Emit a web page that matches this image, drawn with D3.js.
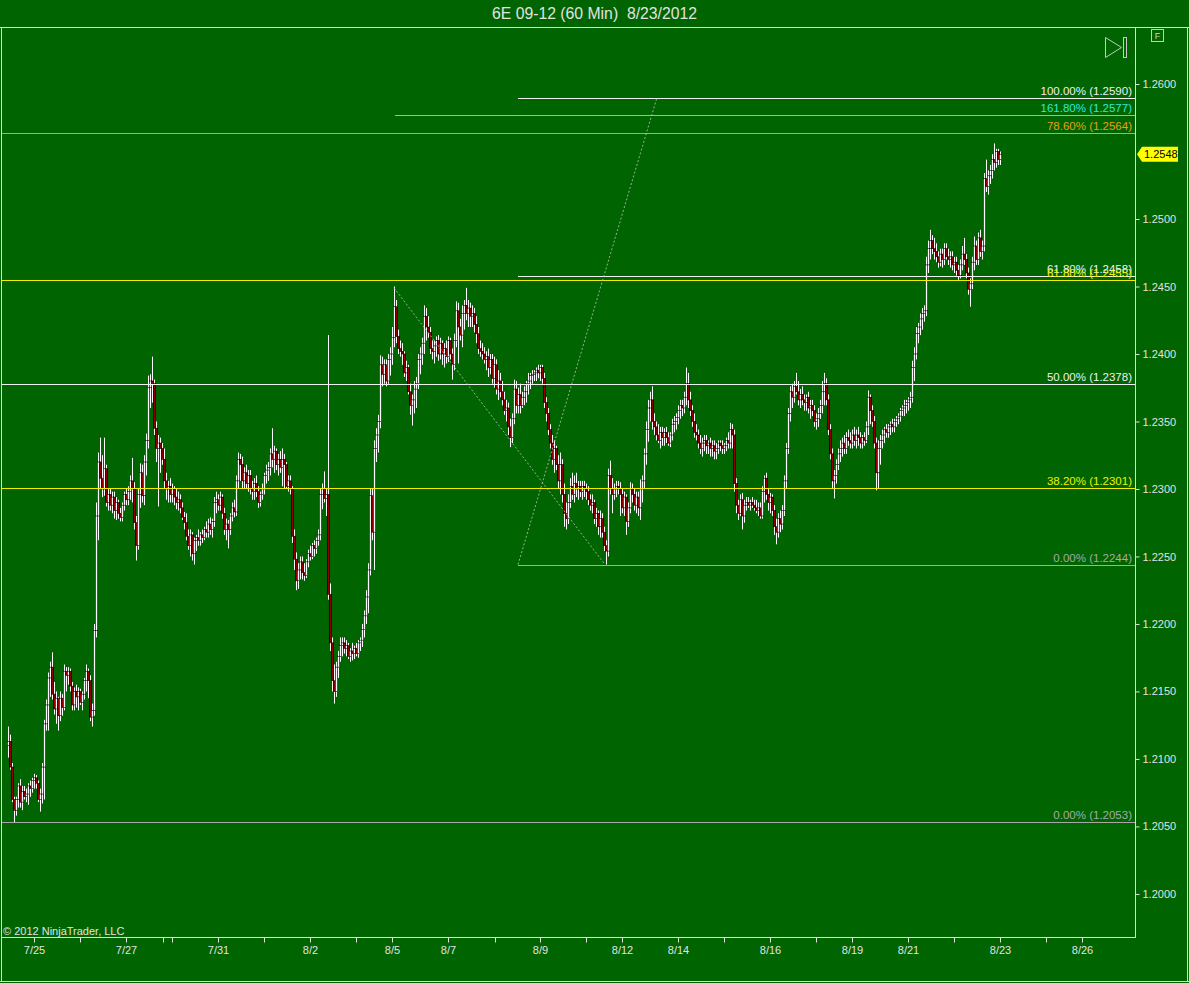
<!DOCTYPE html>
<html><head><meta charset="utf-8">
<script src="https://cdn.jsdelivr.net/npm/d3@7"></script>
<style>html,body{margin:0;padding:0;background:#006400;}svg{display:block}</style>
</head><body><svg id="c" width="1189" height="983"></svg>
<script>
// ---- DATA (prices in pips above 1.2000) ----
const opens=[110,113,94,70,62,70,80,68,76,72,
74,80,78,84,86,82,70,74,94,126,
140,160,168,148,137,145,132,145,138,165,
162,165,154,140,150,146,150,142,148,158,
165,158,131,136,195,280,320,308,300,315,
290,296,288,294,284,290,282,279,288,296,
292,298,306,300,275,258,296,312,295,320,
336,375,380,378,345,330,334,330,322,306,
300,302,296,300,294,290,292,286,279,275,
265,258,266,252,262,264,262,266,264,270,
268,274,270,276,290,292,288,294,282,270,
274,270,280,286,283,306,322,318,306,312,
304,310,300,298,304,298,290,296,300,310,
314,316,326,322,328,318,322,316,322,318,
302,306,300,265,248,232,240,246,238,236,
246,252,250,258,256,262,266,296,300,293,
296,222,186,158,150,168,176,184,186,182,
184,176,180,178,182,178,186,188,196,206,
220,240,295,268,330,340,350,392,385,392,
380,396,400,412,435,413,404,402,400,386,
390,372,362,366,374,378,396,400,408,428,
420,416,404,402,406,410,400,408,400,404,
398,410,400,392,410,432,420,414,430,436,
430,434,428,430,422,415,404,402,400,396,
398,390,396,382,392,374,380,372,366,358,
360,346,338,352,374,362,370,362,368,372,
378,380,384,385,386,388,386,390,382,364,
356,344,334,322,330,318,306,318,296,282,
278,290,302,296,304,300,302,298,302,300,
298,292,288,290,278,282,272,278,268,258,
254,310,300,296,300,302,300,296,286,294,
276,286,300,296,288,294,286,300,306,326,
344,360,366,350,346,340,336,342,338,342,
338,334,340,348,350,353,358,362,360,368,
378,366,358,350,342,340,334,330,334,336,
332,334,330,332,328,330,334,332,330,332,
336,334,344,340,304,288,282,292,280,288,
290,288,290,288,286,284,286,280,298,308,
296,290,294,284,272,268,278,274,284,306,
330,356,372,368,376,372,366,370,366,364,
368,360,362,358,350,352,356,362,372,378,
366,344,326,306,310,318,326,330,334,330,
338,336,334,340,336,340,338,334,338,336,
346,368,358,350,334,312,330,336,340,344,
342,346,348,346,350,352,354,358,360,362,
364,366,368,390,400,415,420,426,430,432,
466,478,484,478,476,472,468,474,470,478,
472,470,472,466,468,462,458,466,474,470,
460,448,452,468,480,470,486,476,480,530,
524,532,536,544,542,550,544];
const highs=[124,118,97,72,72,82,85,80,80,78,
82,84,86,89,88,84,78,97,129,144,
164,172,179,157,150,146,150,148,170,168,
168,167,157,153,155,153,152,150,160,170,
167,162,141,200,290,327,338,325,338,318,
300,300,298,298,294,292,286,290,298,300,
302,310,323,305,280,300,319,318,325,341,
384,385,398,381,350,340,338,334,330,312,
306,308,304,302,300,298,296,290,283,282,
270,270,268,264,266,270,268,270,272,276,
278,279,278,294,298,296,298,296,286,278,
277,282,290,292,310,327,326,324,316,318,
314,314,306,308,310,302,298,304,312,318,
320,330,345,332,330,326,328,330,326,320,
310,310,302,270,253,245,250,250,245,248,
255,258,260,262,264,270,300,304,313,300,
414,230,190,170,172,180,190,190,190,188,
186,182,186,184,186,188,190,200,210,225,
245,300,300,336,345,355,399,398,396,396,
400,405,420,450,440,418,410,408,402,395,
392,378,370,380,383,400,405,412,436,434,
428,420,410,410,413,414,412,410,408,410,
413,412,404,415,439,438,426,436,440,449,
440,438,436,434,428,420,410,408,405,402,
404,400,400,398,396,388,386,380,372,366,
364,352,356,381,380,375,378,372,376,380,
386,386,388,388,390,392,392,392,386,368,
360,348,340,336,332,325,327,322,304,290,
296,308,312,310,312,306,306,306,306,304,
302,296,296,292,286,284,284,282,272,262,
315,321,308,304,306,306,305,300,298,296,
290,305,304,300,298,298,307,310,330,350,
366,372,376,356,350,348,346,346,345,346,
342,342,352,354,356,362,366,366,372,390,
386,372,362,356,348,344,340,338,340,340,
336,338,336,336,334,336,336,336,334,338,
342,349,348,344,308,292,296,297,292,294,
294,292,294,292,292,290,290,302,310,312,
300,297,296,288,278,282,284,288,310,334,
360,376,378,380,386,380,374,376,370,370,
372,366,366,362,356,360,366,380,386,382,
370,348,330,314,322,330,336,338,340,342,
344,342,344,346,344,346,342,340,342,350,
373,370,362,354,338,336,340,344,346,348,
348,350,352,352,354,356,360,362,366,366,
368,372,395,405,420,423,430,434,436,472,
484,492,488,486,482,476,478,478,482,482,
478,476,476,472,472,466,470,480,486,474,
464,456,472,487,484,490,492,484,534,544,
536,540,548,556,552,552,550];
const lows=[101,92,68,53,58,64,64,62,70,68,
66,72,75,78,78,68,61,67,70,121,
121,146,144,133,126,121,128,132,136,150,
155,150,136,136,138,136,140,136,144,150,
145,128,124,132,190,262,300,294,295,287,
284,284,282,278,277,278,276,276,284,288,
288,292,290,270,247,255,286,290,288,310,
330,360,364,340,320,287,312,318,300,292,
290,290,290,288,285,284,282,277,270,262,
255,250,247,244,254,258,258,260,262,264,
264,266,264,272,282,284,284,278,266,262,
256,266,276,279,280,300,306,300,300,300,
298,296,292,292,294,286,287,292,296,304,
306,310,316,312,314,310,312,302,300,300,
298,296,260,240,225,226,233,233,232,234,
242,247,248,250,252,258,262,285,290,280,
218,180,150,141,146,160,172,176,178,176,
174,172,173,174,176,175,180,183,190,200,
208,236,262,240,320,327,345,376,378,376,
378,384,392,405,408,400,398,392,383,380,
370,355,347,356,360,374,385,392,400,410,
412,400,396,393,398,395,396,392,390,393,
394,396,381,388,405,393,410,405,418,425,
420,420,420,416,408,400,398,396,393,388,
383,385,378,375,370,366,368,362,355,350,
340,331,334,348,356,356,356,360,362,364,
370,374,378,380,380,382,380,378,360,350,
340,330,318,312,314,300,296,290,272,270,
274,286,292,290,294,292,294,292,294,292,
288,284,282,274,272,266,264,264,254,244,
250,296,282,292,294,296,280,282,280,266,
272,282,290,284,282,280,277,290,300,318,
335,350,344,340,336,334,330,332,332,334,
332,331,336,342,344,348,352,354,356,362,
360,354,346,338,336,330,326,324,328,326,
326,324,324,322,322,326,328,326,326,328,
330,330,330,298,282,277,280,270,275,284,
286,284,286,284,282,280,278,278,290,292,
284,282,280,266,259,264,268,270,280,300,
326,350,360,364,370,362,360,362,358,358,
356,352,354,346,344,346,352,356,362,362,
340,322,300,293,304,314,320,324,326,326,
332,330,330,332,330,332,330,330,332,334,
340,348,346,330,299,300,318,330,334,338,
338,340,342,342,346,348,350,354,354,356,
358,360,364,380,396,408,414,418,424,428,
460,470,474,470,468,464,465,464,466,470,
466,464,462,460,458,455,456,462,466,456,
444,435,448,462,466,466,472,470,476,520,
518,526,530,536,538,540,540];
const closes=[113,94,70,62,70,80,68,76,72,74,
80,78,84,86,82,70,74,94,126,140,
160,168,148,137,145,132,145,138,165,162,
165,154,140,150,146,150,142,148,158,165,
158,131,136,195,280,320,308,300,315,290,
296,288,294,284,290,282,279,288,296,292,
298,306,300,275,258,296,312,295,320,336,
375,380,378,345,330,334,330,322,306,300,
302,296,300,294,290,292,286,279,275,265,
258,266,252,262,264,262,266,264,270,268,
274,270,276,290,292,288,294,282,270,274,
270,280,286,283,306,322,318,306,312,304,
310,300,298,304,298,290,296,300,310,314,
316,326,322,328,318,322,316,322,318,302,
306,300,265,248,232,240,246,238,236,246,
252,250,258,256,262,266,296,300,293,296,
222,186,158,150,168,176,184,186,182,184,
176,180,178,182,178,186,188,196,206,220,
240,295,268,330,340,350,392,385,392,380,
396,400,412,435,413,404,402,400,386,390,
372,362,366,374,378,396,400,408,428,420,
416,404,402,406,410,400,408,400,404,398,
410,400,392,410,432,420,414,430,436,430,
434,428,430,422,415,404,402,400,396,398,
390,396,382,392,374,380,372,366,358,360,
346,338,352,374,362,370,362,368,372,378,
380,384,385,386,388,386,390,382,364,356,
344,334,322,330,318,306,318,296,282,278,
290,302,296,304,300,302,298,302,300,298,
292,288,290,278,282,272,278,268,258,254,
310,300,296,300,302,300,296,286,294,276,
286,300,296,288,294,286,300,306,326,344,
360,366,350,346,340,336,342,338,342,338,
334,340,348,350,353,358,362,360,368,378,
366,358,350,342,340,334,330,334,336,332,
334,330,332,328,330,334,332,330,332,336,
334,344,340,304,288,282,292,280,288,290,
288,290,288,286,284,286,280,298,308,296,
290,294,284,272,268,278,274,284,306,330,
356,372,368,376,372,366,370,366,364,368,
360,362,358,350,352,356,362,372,378,366,
344,326,306,310,318,326,330,334,330,338,
336,334,340,336,340,338,334,338,336,346,
368,358,350,334,312,330,336,340,344,342,
346,348,346,350,352,354,358,360,362,364,
366,368,390,400,415,420,426,430,432,466,
478,484,478,476,472,468,474,470,478,472,
470,472,466,468,462,458,466,474,470,460,
448,452,468,480,470,486,476,480,530,524,
532,536,544,542,550,544,548];

const yTickValues=[1.2000,1.2050,1.2100,1.2150,1.2200,1.2250,1.2300,1.2350,1.2400,1.2450,1.2500,1.2600];
const xTickBars=[13,36,59,77.5,82,105,128,151,174,192,220,243.5,266,289,307,335,358,381,404,422,450,473,496,519,537];
const xTickLabels=["7/25","","7/27","","","7/31","","8/2","","8/5","8/7","","8/9","","8/12","8/14","","8/16","","8/19","8/21","","8/23","","8/26"];

const fibPrices=[1.2590,1.2577,1.2564,1.2458,1.2455,1.2378,1.2301,1.2244,1.2053];
const fibLabels=["100.00% (1.2590)","161.80% (1.2577)","78.60% (1.2564)","61.80% (1.2458)","61.80% (1.2455)","50.00% (1.2378)","38.20% (1.2301)","0.00% (1.2244)","0.00% (1.2053)"];
const fibStartBars=[255,193.5,-3,255,-3,-3,-3,255,-3];
const trendFrom=[[193,1.2449],[255,1.2244]];
const trendTo=[[298.5,1.2244],[324.5,1.2590]];

const titleText="6E 09-12 (60 Min)  8/23/2012";
const copyrightText="\u00A9 2012 NinjaTrader, LLC";

// ---- STYLE ----
const BG="#006400", FG="#e2e2e2";
const fibColors=["#f0f0f0","#30e8d8","#e8a010","#f0f0f0","#f0f000","#f0f0f0","#f0f000","#a8a8a8","#a8a8a8"];
const font="'Liberation Sans', Arial, sans-serif";

const svg=d3.select("#c");
const P={l:2,r:1135,t:28,b:937};
const x=d3.scaleLinear().domain([-3,563.5]).range([P.l,P.r]);
const y=d3.scaleLinear().domain([1.19681,1.26415]).range([P.b,P.t]);
const pr=v=>1.2+v/10000;

svg.append("rect").attr("width",1189).attr("height",983).attr("fill",BG);

// title
svg.append("text").attr("x",594.5).attr("y",19).attr("text-anchor","middle")
  .attr("font-family",font).attr("font-size",16).attr("fill",FG)
  .attr("textLength",205).attr("lengthAdjust","spacingAndGlyphs")
  .style("white-space","pre").text(titleText);

// clip
svg.append("clipPath").attr("id","clip").append("rect")
  .attr("x",P.l).attr("y",P.t).attr("width",P.r-P.l).attr("height",P.b-P.t);
const g=svg.append("g").attr("clip-path","url(#clip)");

// candles
const idx=d3.range(closes.length);
const cg=g.append("g");
idx.forEach(i=>{
  const cx=Math.round(x(i));
  const o=pr(opens[i]), c=pr(closes[i]), h=pr(highs[i]), l=pr(lows[i]);
  cg.append("line").attr("x1",cx+0.5).attr("x2",cx+0.5)
    .attr("y1",y(h)).attr("y2",y(l)).attr("stroke","#ffffff").attr("stroke-width",1);
  const top=y(Math.max(o,c)), bot=y(Math.min(o,c));
  cg.append("rect").attr("x",cx-0.7).attr("width",2.4)
    .attr("y",top).attr("height",Math.max(1,bot-top))
    .attr("fill",c>=o?"#ffffff":"#900000")
    .attr("stroke","#000").attr("stroke-width",0.6);
});

// fib lines
fibPrices.forEach((p,i)=>{
  g.append("line").attr("x1",x(fibStartBars[i])).attr("x2",P.r)
    .attr("y1",Math.round(y(p))+0.5).attr("y2",Math.round(y(p))+0.5)
    .attr("stroke",fibColors[i]).attr("stroke-width",1);
});
fibPrices.forEach((p,i)=>{
  svg.append("text").attr("x",P.r-3).attr("y",Math.round(y(p))-3)
    .attr("text-anchor","end").attr("font-family",font).attr("font-size",11.5)
    .attr("fill",fibColors[i]).text(fibLabels[i]);
});

// dotted trend lines
trendFrom.forEach((f,i)=>{
  g.append("line").attr("x1",x(f[0])).attr("y1",y(f[1]))
    .attr("x2",x(trendTo[i][0])).attr("y2",y(trendTo[i][1]))
    .attr("stroke","#c0c0c0").attr("stroke-width",0.8).attr("stroke-dasharray","2,2");
});

// frame
const fr=svg.append("g").attr("stroke","#dcdcdc").attr("stroke-width",1).attr("fill","none");
fr.append("line").attr("x1",0).attr("x2",1189).attr("y1",27.5).attr("y2",27.5);
fr.append("line").attr("x1",1.5).attr("x2",1.5).attr("y1",27).attr("y2",982);
fr.append("line").attr("x1",1187.5).attr("x2",1187.5).attr("y1",27).attr("y2",982);
fr.append("line").attr("x1",0).attr("x2",1189).attr("y1",981.5).attr("y2",981.5);
fr.append("line").attr("x1",P.r+0.5).attr("x2",P.r+0.5).attr("y1",27).attr("y2",P.b+1);
fr.append("line").attr("x1",1).attr("x2",P.r+1).attr("y1",P.b+0.5).attr("y2",P.b+0.5);

// y axis
const ya=svg.append("g").attr("transform",`translate(${P.r+0.5},0)`)
  .call(d3.axisRight(y).tickValues(yTickValues).tickSize(4).tickPadding(3).tickFormat(d3.format(".4f")));
ya.select(".domain").remove();
ya.selectAll("line").attr("stroke",FG);
ya.selectAll("text").attr("fill",FG).attr("font-family",font).attr("font-size",11);

// x axis
const xa=svg.append("g").attr("transform",`translate(0,${P.b+0.5})`)
  .call(d3.axisBottom(x).tickValues(xTickBars).tickSize(5).tickPadding(4).tickFormat((d,i)=>xTickLabels[i]));
xa.select(".domain").remove();
xa.selectAll("line").attr("stroke",FG);
xa.selectAll("text").attr("fill",FG).attr("font-family",font).attr("font-size",11);

// copyright
svg.append("text").attr("x",3).attr("y",935).attr("font-family",font).attr("font-size",11)
  .attr("fill",FG).text(copyrightText);

// last price tag
const last=pr(closes[closes.length-1]);
const ly=y(last);
svg.append("path").attr("d",`M${P.r+2},${ly} L${P.r+7},${ly-7.5} L${P.r+43},${ly-7.5} L${P.r+43},${ly+7.5} L${P.r+7},${ly+7.5} Z`)
  .attr("fill","#ffff00");
svg.append("text").attr("x",P.r+9).attr("y",ly+4).attr("font-family",font).attr("font-size",11)
  .attr("fill","#000").text(d3.format(".4f")(last));

// icons
const ic=svg.append("g").attr("stroke","#c8c8c8").attr("fill","none").attr("stroke-width",1);
ic.append("path").attr("d","M1105.5,37.5 L1105.5,57.5 L1121.5,47.5 Z");
ic.append("rect").attr("x",1123.5).attr("y",37.5).attr("width",3).attr("height",20);
ic.append("rect").attr("x",1151.5).attr("y",29.5).attr("width",12).attr("height",12);
svg.append("text").attr("x",1157.5).attr("y",39).attr("text-anchor","middle")
  .attr("font-family",font).attr("font-size",9).attr("fill","#d0d0d0").text("F");
</script></body></html>
